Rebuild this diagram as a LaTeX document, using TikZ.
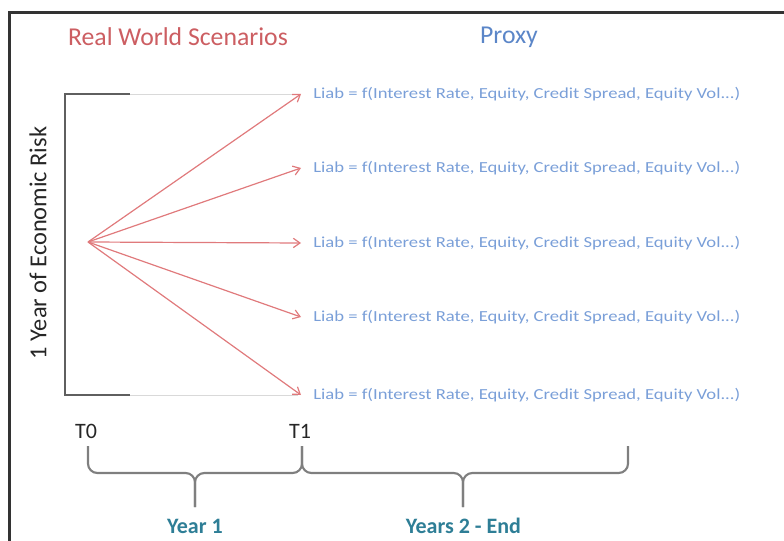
\documentclass[tikz,border=0pt]{standalone}
\usepackage{fontspec}
\setmainfont{Carlito}
\newfontfamily\widefont[FakeStretch=1.215]{Carlito}
\usetikzlibrary{arrows.meta}
\definecolor{rwred}{HTML}{CC5E62}
\definecolor{arrred}{HTML}{E07A7C}
\definecolor{proxyblue}{HTML}{5B86C8}
\definecolor{liabblue}{HTML}{7A9FD8}
\definecolor{teal}{HTML}{2E7E96}
\definecolor{brk}{HTML}{5F5F5F}
\definecolor{brace}{HTML}{7F7F7F}
\tikzset{
  liab/.style={anchor=west, inner xsep=9pt, inner ysep=1pt, text=liabblue, font=\widefont\fontsize{11.5}{13}\selectfont},
  scen/.style={draw=arrred, line width=0.9pt, -{Straight Barb[length=5pt,width=7pt]}},
  bracestyle/.style={draw=brace, line width=1.6pt, rounded corners=7pt},
  tlabel/.style={font=\fontsize{16.5}{19}\selectfont, text=black!85},
  ylabel/.style={font=\bfseries\fontsize{16.5}{19}\selectfont, text=teal},
  title/.style={font=\fontsize{19.3}{22}\selectfont},
}
\begin{document}
\begin{tikzpicture}[x=0.75pt,y=-0.75pt]
\useasboundingbox (0,0) rectangle (784,541);
% frame
\draw[line width=1.6pt, black!80] (9.5,541) -- (9.5,12.5) -- (784,12.5);
% titles
\node[title, text=rwred] (rws) at (178,37) {Real World Scenarios};
\node[title, text=proxyblue] (proxy) at (509,37) {Proxy};
% bracket
\coordinate (bt) at (130,94);
\coordinate (bb) at (130,395);
\draw[draw=brk, line width=1.8pt] (bt) -- (65,94) -- (65,395) -- (bb);
\draw[draw=black!15, line width=0.6pt] (bt) -- (298,94);
\draw[draw=black!15, line width=0.6pt] (bb) -- (298,395);
\node[rotate=90, font=\fontsize{18.3}{21}\selectfont, text=black!85] (risk) at (38,243) {1 Year of Economic Risk};
% scenarios
\coordinate (o) at (88,242);
\node[liab] (l1) at (301,94) {Liab = f(Interest Rate, Equity, Credit Spread, Equity Vol...)};
\node[liab] (l2) at (301,168) {Liab = f(Interest Rate, Equity, Credit Spread, Equity Vol...)};
\node[liab] (l3) at (301,243) {Liab = f(Interest Rate, Equity, Credit Spread, Equity Vol...)};
\node[liab] (l4) at (301,317) {Liab = f(Interest Rate, Equity, Credit Spread, Equity Vol...)};
\node[liab] (l5) at (301,395) {Liab = f(Interest Rate, Equity, Credit Spread, Equity Vol...)};
\foreach \n in {l1,l2,l3,l4,l5}{\draw[scen] (o) -- (\n.west);}
% time labels
\node[tlabel] (t0) at (86,431) {T0};
\node[tlabel] (t1) at (300,431) {T1};
% braces
\draw[bracestyle] (88,446) -- (88,473) -- (195,473) -- (195,507);
\draw[bracestyle] (302,446) -- (302,473) -- (195,473) -- (195,507);
\draw[bracestyle] (302,446) -- (302,473) -- (463,473) -- (463,507);
\draw[bracestyle] (628,446) -- (628,473) -- (463,473) -- (463,507);
\node[ylabel] (y1) at (195,526) {Year 1};
\node[ylabel] (y2) at (463.5,526) {Years 2 - End};
\end{tikzpicture}
\end{document}
